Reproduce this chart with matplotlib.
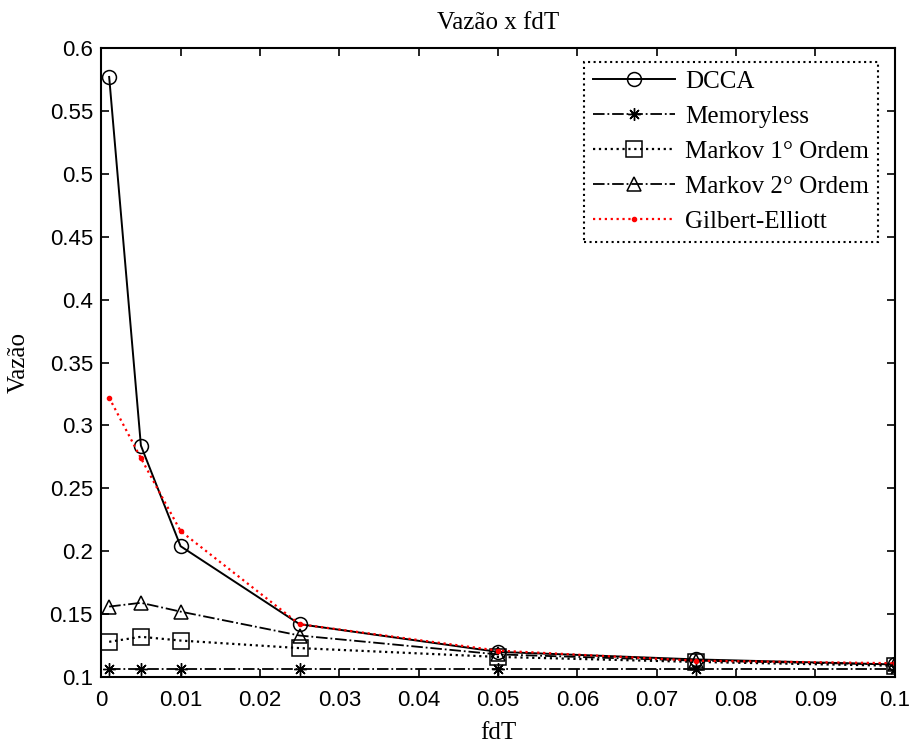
import numpy as np
import matplotlib
matplotlib.use('Agg')
import matplotlib.pyplot as plt

# fdT values and throughput for each channel model
fdt = [0.001, 0.005, 0.01, 0.025, 0.05, 0.075, 0.1]
dcca = [0.577, 0.284, 0.204, 0.142, 0.120, 0.114, 0.110]
memoryless = [0.106, 0.106, 0.106, 0.106, 0.106, 0.106, 0.106]
markov1 = [0.128, 0.132, 0.129, 0.123, 0.116, 0.112, 0.109]
markov2 = [0.156, 0.159, 0.152, 0.133, 0.118, 0.113, 0.110]
gilbert = [0.322, 0.274, 0.216, 0.142, 0.121, 0.113, 0.111]

xtick_labels = ['0', '0.01', '0.02', '0.03', '0.04', '0.05', '0.06', '0.07', '0.08', '0.09', '0.1']
ytick_labels = ['0.1', '0.15', '0.2', '0.25', '0.3', '0.35', '0.4', '0.45', '0.5', '0.55', '0.6']

serif = 'Liberation Serif'
sans = 'Liberation Sans'

fig = plt.figure(figsize=(9.12, 7.44), dpi=100)
ax = fig.add_axes([0.111, 0.09, 0.87, 0.8455])

ax.plot(fdt, dcca, '-', color='black', lw=1.4, marker='o', ms=10, mfc='none', mew=1.1, label='DCCA')
ax.plot(fdt, memoryless, '-.', color='black', lw=1.3, marker=(8, 2, 0), ms=9, mew=1.0, label='Memoryless')
ax.plot(fdt, markov1, ':', color='black', lw=1.6, marker='s', ms=11, mfc='none', mew=1.1, label='Markov 1° Ordem')
ax.plot(fdt, markov2, '-.', color='black', lw=1.3, marker='^', ms=10, mfc='none', mew=1.1, label='Markov 2° Ordem')
ax.plot(fdt, gilbert, ':', color='red', lw=1.6, marker='.', ms=6, label='Gilbert-Elliott')

ax.set_xlim(0, 0.1)
ax.set_ylim(0.1, 0.6)
ax.set_xticks(np.linspace(0, 0.1, 11))
ax.set_xticklabels(xtick_labels)
ax.set_yticks(np.linspace(0.1, 0.6, 11))
ax.set_yticklabels(ytick_labels)
ax.tick_params(direction='in', top=True, right=True, length=6, width=1.2, labelsize=16, pad=6)
ax.tick_params(axis='x', pad=9)
for lbl in ax.get_xticklabels() + ax.get_yticklabels():
    lbl.set_fontfamily(sans)
for sp in ax.spines.values():
    sp.set_linewidth(1.5)

ax.set_title('Vazão x fdT', fontfamily=serif, fontsize=18, pad=14)
ax.set_xlabel('fdT', fontfamily=serif, fontsize=18, labelpad=8)
ax.set_ylabel('Vazão', fontfamily=serif, fontsize=18, labelpad=14)

leg = ax.legend(loc='upper right', bbox_to_anchor=(0.9786, 0.978), prop={'family': serif, 'size': 18},
                fancybox=False, framealpha=1, edgecolor='black', handlelength=3.3,
                borderpad=0.35, labelspacing=0.5, handletextpad=0.4, borderaxespad=0.0)
leg.get_frame().set_linestyle(':')
leg.get_frame().set_linewidth(1.5)

fig.savefig('out.png', dpi=100)
